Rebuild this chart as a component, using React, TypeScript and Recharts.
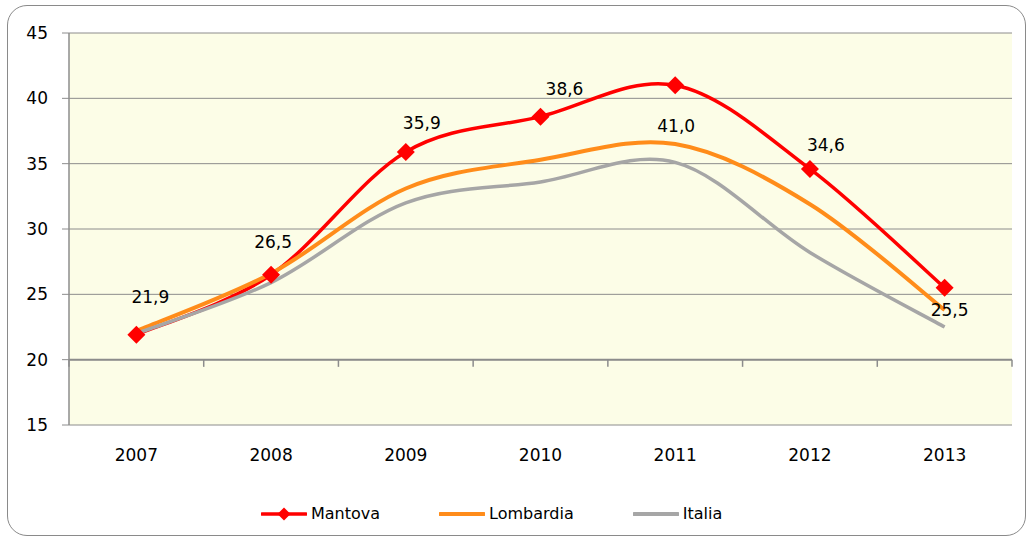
import React from 'react';
import { LineChart, Line, XAxis, YAxis, CartesianGrid, Legend, ReferenceLine, LabelList } from 'recharts';

const years = ['2007', '2008', '2009', '2010', '2011', '2012', '2013'];
const mantova = [21.9, 26.5, 35.9, 38.6, 41.0, 34.6, 25.5];
const lombardia = [22.2, 26.6, 33.1, 35.3, 36.5, 31.9, 23.8];
const italia = [22.0, 25.9, 32.0, 33.6, 35.1, 28.2, 22.5];
const seriesNames = ['Mantova', 'Lombardia', 'Italia'];
const yTicks = [15, 20, 25, 30, 35, 40, 45];
const bandEdges = [0, 1, 2, 3, 4, 5, 6, 7];

const data = years.map((y, i) => ({
  year: y, pos: i + 0.5,
  Mantova: mantova[i], Lombardia: lombardia[i], Italia: italia[i], MantovaLbl: mantova[i],
}));

// label offsets (style) relative to marker centre
const labelDx = [14, 2, 16, 24, 1, 16, 5];
const labelDy = [-38, -33, -29, -28, 41, -24, 22];

const FONT = '"DejaVu Sans", sans-serif';
const RED = '#FF0000';
const ORANGE = '#FF8C1A';
const GREY = '#A6A6A6';
const GRID = '#8C8C8C';

// Excel-like smoothing (Catmull-Rom via cubic Bezier)
const excelCurve: any = (context: any) => {
  let pts: number[][] = [];
  return {
    areaStart() {},
    areaEnd() {},
    lineStart() { pts = []; },
    point(x: number, y: number) { pts.push([+x, +y]); },
    lineEnd() {
      if (!pts.length) return;
      context.moveTo(pts[0][0], pts[0][1]);
      for (let i = 0; i < pts.length - 1; i++) {
        const p0 = pts[i - 1] || pts[i];
        const p1 = pts[i];
        const p2 = pts[i + 1];
        const p3 = pts[i + 2] || p2;
        context.bezierCurveTo(
          p1[0] + (p2[0] - p0[0]) / 6, p1[1] + (p2[1] - p0[1]) / 6,
          p2[0] - (p3[0] - p1[0]) / 6, p2[1] - (p3[1] - p1[1]) / 6,
          p2[0], p2[1]
        );
      }
    },
  };
};

const Diamond = (p: any) => {
  const { cx, cy } = p;
  if (cx == null || cy == null) return <g key={p.index} />;
  const r = 9;
  return <path key={p.index} d={`M${cx},${cy - r}L${cx + r},${cy}L${cx},${cy + r}L${cx - r},${cy}Z`} fill={RED} />;
};

const DataLabel = (p: any) => {
  const { x, y, value, index } = p;
  if (x == null || y == null) return null;
  return (
    <text x={x + labelDx[index]} y={y + labelDy[index]} textAnchor="middle" dominantBaseline="central"
      fontSize={17} fontFamily={FONT} fill="#000">
      {Number(value).toFixed(1).replace('.', ',')}
    </text>
  );
};

const legendStyle: Record<string, { color: string; w: number; marker: boolean }> = {
  Mantova: { color: RED, w: 3.5, marker: true },
  Lombardia: { color: ORANGE, w: 4, marker: false },
  Italia: { color: GREY, w: 4, marker: false },
};

const renderLegend = (props: any) => {
  const present = new Set((props.payload || []).map((e: any) => e.value));
  const names = seriesNames.filter((n) => present.has(n));
  return (
    <div style={{ display: 'flex', alignItems: 'center', paddingLeft: 261, height: 20, fontFamily: FONT, fontSize: 16, color: '#000' }}>
      {names.map((n, i) => {
        const s = legendStyle[n];
        return (
          <div key={n} style={{ display: 'flex', alignItems: 'center', marginLeft: i === 0 ? 0 : 59 }}>
            <svg width={46} height={16} style={{ display: 'block' }}>
              <line x1={1} y1={8} x2={45} y2={8} stroke={s.color} strokeWidth={s.w} strokeLinecap="round" />
              {s.marker && <path d="M23,1.5L29.5,8L23,14.5L16.5,8Z" fill={s.color} />}
            </svg>
            <span style={{ marginLeft: 4, lineHeight: '20px' }}>{n}</span>
          </div>
        );
      })}
    </div>
  );
};

export default function App() {
  return (
    <div style={{ position: 'absolute', left: 0, top: 0, width: 1028, height: 538, background: '#fff', fontFamily: FONT }}>
      <div style={{ position: 'absolute', left: 7, top: 5, width: 1019, height: 531, border: '1px solid #8A8A8A', borderRadius: 20, boxSizing: 'border-box' }} />
      <div style={{ position: 'absolute', left: 0, top: 0 }}>
        <LineChart width={1028} height={538} data={data} margin={{ top: 33, right: 16, left: 0, bottom: 73 }}>
          <CartesianGrid vertical={false} stroke={GRID} strokeWidth={1} fill="#FCFDE7" fillOpacity={1} />
          <XAxis dataKey="year" scale="band" height={40} tickLine={false} axisLine={false} tickSize={0} tickMargin={24}
            interval={0} tick={{ fontSize: 17, fill: '#000', fontFamily: FONT }} />
          <XAxis xAxisId="edge" dataKey="pos" type="number" domain={[0, 7]} allowDataOverflow hide />
          <YAxis domain={[15, 45]} ticks={yTicks} width={69} interval={0} tickSize={7} tickMargin={14}
            axisLine={{ stroke: GRID, strokeWidth: 1.5 }} tickLine={{ stroke: GRID }}
            tick={{ fontSize: 17, fill: '#000', fontFamily: FONT }} />
          <ReferenceLine y={20} stroke={GRID} strokeWidth={2} />
          {bandEdges.map((e) => (
            <ReferenceLine key={e} xAxisId="edge" segment={[{ x: e, y: 20 }, { x: e, y: 19.45 }]} stroke={GRID} strokeWidth={1.5} />
          ))}
          <Line dataKey="Mantova" name="Mantova" stroke={RED} strokeWidth={3.5} type={excelCurve}
            dot={(p: any) => <Diamond {...p} key={p.index} />} activeDot={false} isAnimationActive={false} />
          <Line dataKey="Lombardia" name="Lombardia" stroke={ORANGE} strokeWidth={4} type={excelCurve}
            dot={false} activeDot={false} isAnimationActive={false} />
          <Line dataKey="Italia" name="Italia" stroke={GREY} strokeWidth={3.5} type={excelCurve}
            dot={false} activeDot={false} isAnimationActive={false} />
          <Line dataKey="MantovaLbl" stroke="none" dot={false} activeDot={false} legendType="none" isAnimationActive={false}>
            <LabelList dataKey="MantovaLbl" content={<DataLabel />} />
          </Line>
          <Legend layout="horizontal" verticalAlign="middle" align="center" content={renderLegend}
            wrapperStyle={{ position: 'absolute', left: 0, top: 504, width: 1028, height: 20 }} />
        </LineChart>
      </div>
    </div>
  );
}
